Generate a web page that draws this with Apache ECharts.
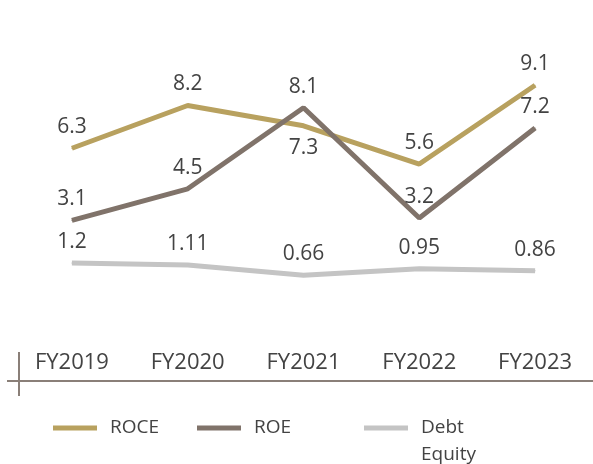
<!DOCTYPE html>
<html>
<head>
<meta charset="utf-8">
<script src="https://cdn.jsdelivr.net/npm/echarts@6/dist/echarts.min.js"></script>
<style>
  html, body { margin: 0; padding: 0; background: #fff; }
  #main { width: 593px; height: 464px; }
</style>
</head>
<body>
<div id="main"></div>
<script>
// data
var years = ["FY2019", "FY2020", "FY2021", "FY2022", "FY2023"];
var roce = [6.3, 8.2, 7.3, 5.6, 9.1];
var roe = [3.1, 4.5, 8.1, 3.2, 7.2];
var debtEquity = [1.2, 1.11, 0.66, 0.95, 0.86];
var roceLabelBelow = [false, false, true, false, false]; // 7.3 sits under the line

var FONT = "Open Sans";
var TEXT = "#434343";

var labelStyle = {
  show: true,
  position: "top",
  distance: 10,
  fontFamily: FONT,
  fontSize: 21,
  color: TEXT
};

var legendText = { fontFamily: FONT, fontSize: 19, color: TEXT, lineHeight: 27, padding: [0, 0, 0, 8] };

var chart = echarts.init(document.getElementById("main"));

chart.setOption({
  animation: false,
  grid: { left: 14, right: 0, top: 65, bottom: 83 },
  xAxis: {
    type: "category",
    data: years,
    boundaryGap: true,
    axisLine: { onZero: false, lineStyle: { color: "#8a7f78", width: 2 } },
    axisTick: { show: false },
    axisLabel: {
      inside: true,
      margin: 7,
      fontFamily: FONT,
      fontSize: 22,
      color: TEXT
    }
  },
  yAxis: {
    type: "value",
    min: -4.04,
    max: 10,
    show: false
  },
  legend: [
    {
      left: 53, top: 414.5, padding: 0,
      icon: "rect", itemWidth: 44, itemHeight: 5, itemGap: 0,
      data: ["ROCE"],
      textStyle: legendText
    },
    {
      left: 197, top: 414.5, padding: 0,
      icon: "rect", itemWidth: 44, itemHeight: 5, itemGap: 0,
      data: ["ROE"],
      textStyle: legendText
    },
    {
      // blank first line keeps "Debt" level with the icon
      left: 364, top: 387.5, padding: 0,
      icon: "rect", itemWidth: 44, itemHeight: 5, itemGap: 0,
      data: ["Debt Equity"],
      formatter: function () { return " \nDebt\nEquity"; },
      textStyle: legendText
    }
  ],
  graphic: [
    // little cross mark at the left end of the axis
    {
      type: "line",
      shape: { x1: 19, y1: 352, x2: 19, y2: 396 },
      style: { stroke: "#8a7f78", lineWidth: 2 }
    },
    {
      type: "line",
      shape: { x1: 7, y1: 381, x2: 14, y2: 381 },
      style: { stroke: "#8a7f78", lineWidth: 2 }
    }
  ],
  series: [
    {
      name: "ROCE",
      type: "line",
      symbol: "circle",
      symbolSize: 1,
      data: roce.map(function (v, i) {
        return roceLabelBelow[i] ? { value: v, label: { position: "bottom", distance: 11 } } : v;
      }),
      lineStyle: { color: "#b8a15f", width: 5 },
      itemStyle: { color: "#b8a15f" },
      label: labelStyle
    },
    {
      name: "ROE",
      type: "line",
      symbol: "circle",
      symbolSize: 1,
      data: roe,
      lineStyle: { color: "#80736a", width: 5 },
      itemStyle: { color: "#80736a" },
      label: labelStyle
    },
    {
      name: "Debt Equity",
      type: "line",
      symbol: "circle",
      symbolSize: 1,
      data: debtEquity,
      lineStyle: { color: "#c4c4c4", width: 5 },
      itemStyle: { color: "#c4c4c4" },
      label: labelStyle
    }
  ]
});
</script>
</body>
</html>
